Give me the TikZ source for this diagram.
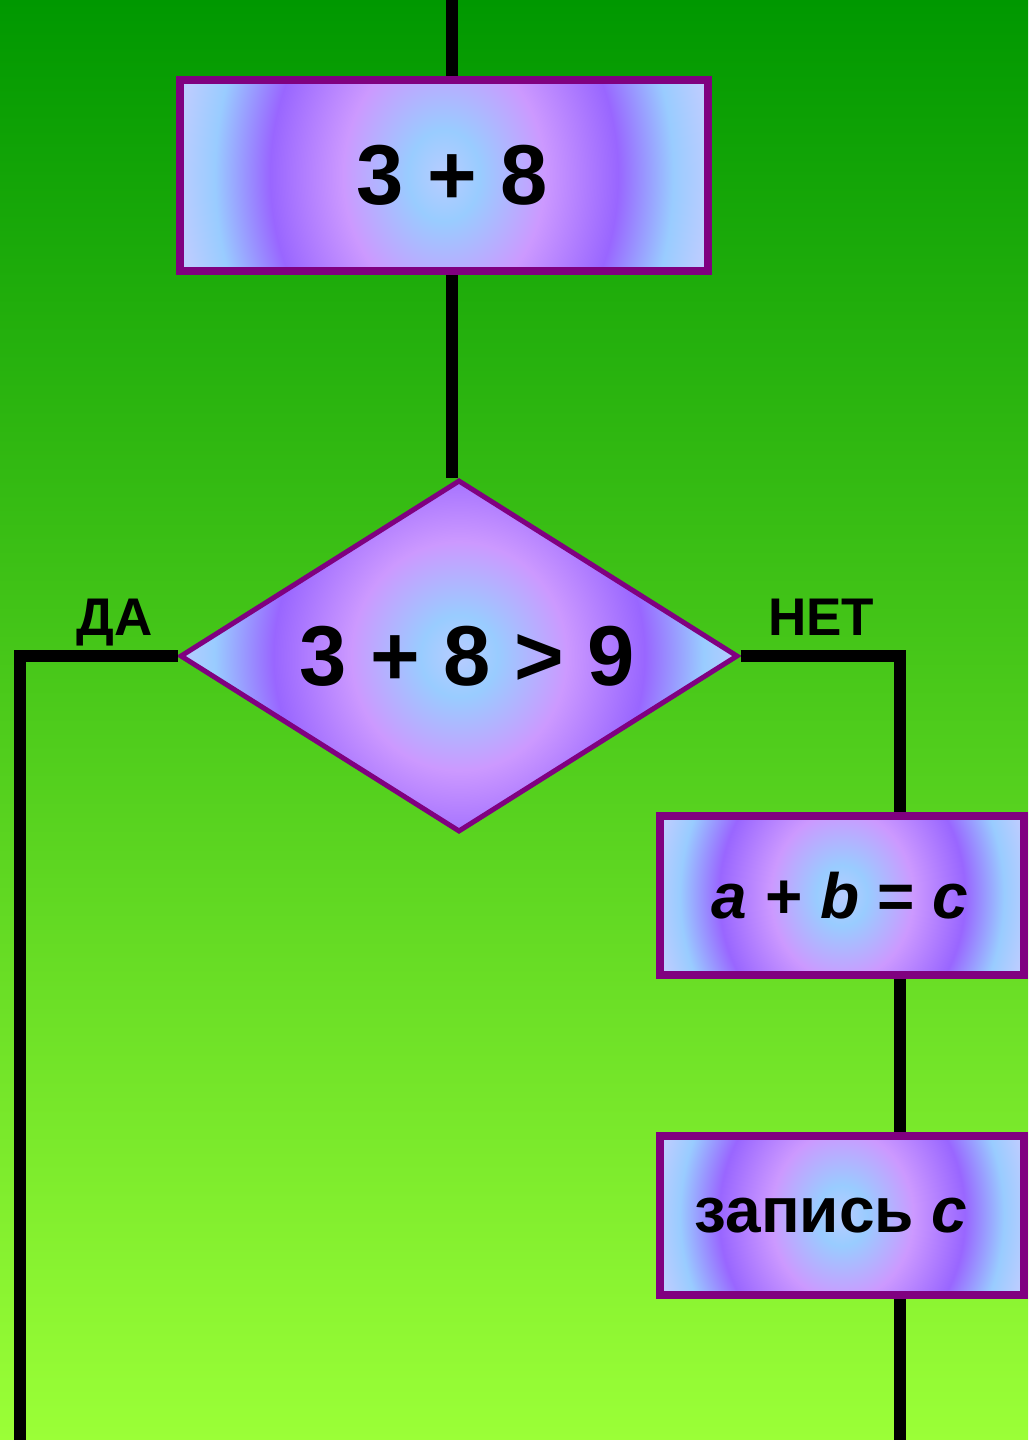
\documentclass[tikz,border=0pt]{standalone}
\usepackage{fontspec}
\setmainfont{Liberation Sans}
\usetikzlibrary{shapes.geometric}

\definecolor{bgTop}{RGB}{0,152,0}
\definecolor{bgBottom}{RGB}{155,255,55}
\definecolor{frame}{RGB}{128,0,128}
\definecolor{gCore}{RGB}{184,204,255}
\definecolor{gBlue}{RGB}{153,204,255}
\definecolor{gPink}{RGB}{204,153,255}
\definecolor{gViolet}{RGB}{153,102,255}
\definecolor{gEdge}{RGB}{187,204,255}

% elliptic glow used inside every block
\pgfdeclareradialshading{glow}{\pgfpointorigin}{%
  color(0bp)=(gCore); color(3bp)=(gBlue); color(8.4bp)=(gPink);
  color(14.5bp)=(gViolet); color(19.1bp)=(gBlue); color(22bp)=(gEdge);
  color(50bp)=(gEdge)}

\tikzset{
  glowfill/.style 2 args={path picture={
    \shade[shading=glow]
      ([shift={(-#1,-#2)}]path picture bounding box.center) rectangle
      ([shift={(#1,#2)}]path picture bounding box.center);}},
  blockbox/.style={rectangle, draw=frame, line width=8pt, inner sep=0pt},
  decbox/.style={diamond, draw=frame, line width=5pt, inner sep=0pt, aspect=1.585},
  wire/.style={draw=black, line width=12pt},
  bigtxt/.style={font=\fontsize{85}{96}\selectfont\bfseries},
  midtxt/.style={font=\fontsize{64}{72}\selectfont\bfseries},
  labtxt/.style={font=\fontsize{53}{60}\selectfont\bfseries},
}

\begin{document}
\begin{tikzpicture}[x=1pt, y=-1pt]
  \useasboundingbox (0,0) rectangle (1028,1440);
  \shade[top color=bgTop, bottom color=bgBottom] (0,0) rectangle (1028,1440);

  % blocks
  \node[blockbox, glowfill={300}{380}, minimum width=528pt, minimum height=191pt, bigtxt]
    (b1) at (444,175.5) {\hspace*{16pt}3 + 8};
  \node[decbox, glowfill={320}{340}, minimum width=558pt, minimum height=352pt, bigtxt]
    (dec) at (459,656) {\hspace*{16pt}3 + 8 > 9};
  \node[blockbox, glowfill={212}{250}, minimum width=364pt, minimum height=159pt, midtxt]
    (b3) at (842,895.5) {\itshape a \upshape+ \itshape b \upshape= \itshape c\hspace*{4pt}};
  \node[blockbox, glowfill={212}{250}, minimum width=364pt, minimum height=159pt, midtxt]
    (b4) at (842,1215.5) {запись \textit{c}\hspace*{22pt}};

  % branch labels
  \node[labtxt, anchor=base, inner sep=0pt] (yes) at (115,635) {ДА};
  \node[labtxt, anchor=base, inner sep=0pt] (no) at (821,635) {НЕТ};

  % connectors
  \coordinate (topin) at (452,0);
  \coordinate (leftend) at (20,1440);
  \coordinate (rightend) at (900,1440);
  \draw[wire] (topin) -- (topin |- b1.north);
  \draw[wire] (topin |- b1.south) -- (topin |- dec.north);
  \draw[wire] (dec.west) -- (dec.west -| leftend) -- (leftend);
  \draw[wire] (dec.east) -- (dec.east -| rightend) -- (rightend |- b3.north);
  \draw[wire] (rightend |- b3.south) -- (rightend |- b4.north);
  \draw[wire] (rightend |- b4.south) -- (rightend);
\end{tikzpicture}
\end{document}
